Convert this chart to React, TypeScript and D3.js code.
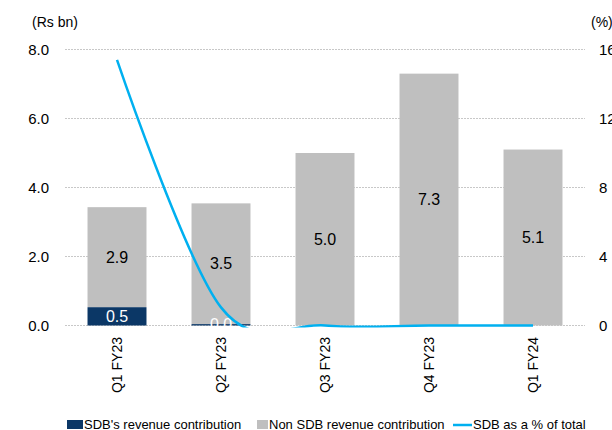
import React from "react";
import * as d3 from "d3";

const categories = ["Q1 FY23", "Q2 FY23", "Q3 FY23", "Q4 FY23", "Q1 FY24"];
const sdbRevenue = [0.53, 0.04, 0, 0, 0];
const nonSdbRevenue = [2.9, 3.5, 5.0, 7.3, 5.1];
const sdbPct = [15.4, 1.05, 0, 0, 0];
const leftTicks = [0, 2, 4, 6, 8];
const rightTicks = [0, 4, 8, 12, 16];
const sdbLabels = ["0.5", "0.0", null, null, null];
const legendItems = ["SDB's revenue contribution", "Non SDB revenue contribution", "SDB as a % of total"];

const W = 612;
const H = 430;
const FONT = "'Liberation Sans', Arial, sans-serif";
const NAVY = "#0b3766";
const GRAY = "#bfbfbf";
const CYAN = "#00b0f0";

export default function App() {
  const x = d3.scaleBand<string>().domain(categories).range([65, 585]).paddingInner(0.433).paddingOuter(0.2165);
  const y = d3.scaleLinear().domain([0, 8]).range([325.5, 49.5]);
  const y2 = d3.scaleLinear().domain([0, 16]).range([325.5, 49.5]);
  const bw = x.bandwidth();

  const line = d3
    .line<number>()
    .x((_, i) => (x(categories[i]) as number) + bw / 2)
    .y((d) => y2(d))
    .curve(d3.curveCatmullRom.alpha(0));

  return (
    <svg width={W} height={H} style={{ position: "absolute", left: 0, top: 0, background: "#fff" }} fontFamily={FONT}>
      <defs>
        <clipPath id="plotClip">
          <rect x={60} y={45} width={530} height={282.5} />
        </clipPath>
      </defs>
      {leftTicks.map((t) => (
        <line key={t} x1={65} x2={585} y1={y(t)} y2={y(t)} stroke="#c8c8c8" strokeWidth={1} strokeDasharray="2,1" />
      ))}
      {leftTicks.map((t) => (
        <text key={t} x={49} y={y(t)} textAnchor="end" dominantBaseline="central" fontSize={15} fill="#000">
          {t.toFixed(1)}
        </text>
      ))}
      {rightTicks.map((t) => (
        <text key={t} x={599} y={y2(t)} textAnchor="start" dominantBaseline="central" fontSize={15} fill="#000">
          {t}
        </text>
      ))}
      <text x={32} y={22} dominantBaseline="central" fontSize={14} fill="#000">(Rs bn)</text>
      <text x={591} y={22} dominantBaseline="central" fontSize={14} fill="#000">(%)</text>

      {categories.map((c, i) => {
        const x0 = x(c) as number;
        const s = sdbRevenue[i];
        const n = nonSdbRevenue[i];
        return (
          <g key={c}>
            <rect x={x0} y={y(s + n)} width={bw} height={y(s) - y(s + n)} fill={GRAY} />
            <rect x={x0} y={y(s)} width={bw} height={y(0) - y(s)} fill={NAVY} />
            <text x={x0 + bw / 2} y={(y(s) + y(s + n)) / 2} textAnchor="middle" dominantBaseline="central" fontSize={16} fill="#000">
              {n.toFixed(1)}
            </text>
            {sdbLabels[i] && (
              <text x={x0 + bw / 2} y={(y(0) + y(s)) / 2} textAnchor="middle" dominantBaseline="central" fontSize={16} fill="#fff">
                {sdbLabels[i]}
              </text>
            )}
          </g>
        );
      })}

      <path d={line(sdbPct) || ""} fill="none" stroke={CYAN} strokeWidth={2.5} clipPath="url(#plotClip)" />

      {categories.map((c) => {
        const cx = (x(c) as number) + bw / 2;
        return (
          <text key={c} transform={`translate(${cx},337) rotate(-90)`} textAnchor="end" dominantBaseline="central" fontSize={14} fill="#000">
            {c}
          </text>
        );
      })}

      <rect x={67} y={420} width={16} height={9} fill={NAVY} />
      <text x={84} y={429} fontSize={13} fill="#000">{legendItems[0]}</text>
      <rect x={257} y={420} width={11} height={9} fill={GRAY} />
      <text x={269} y={429} fontSize={13} fill="#000">{legendItems[1]}</text>
      <line x1={453} x2={472} y1={425} y2={425} stroke={CYAN} strokeWidth={2.5} />
      <text x={473} y={429} fontSize={13} fill="#000">{legendItems[2]}</text>
    </svg>
  );
}
